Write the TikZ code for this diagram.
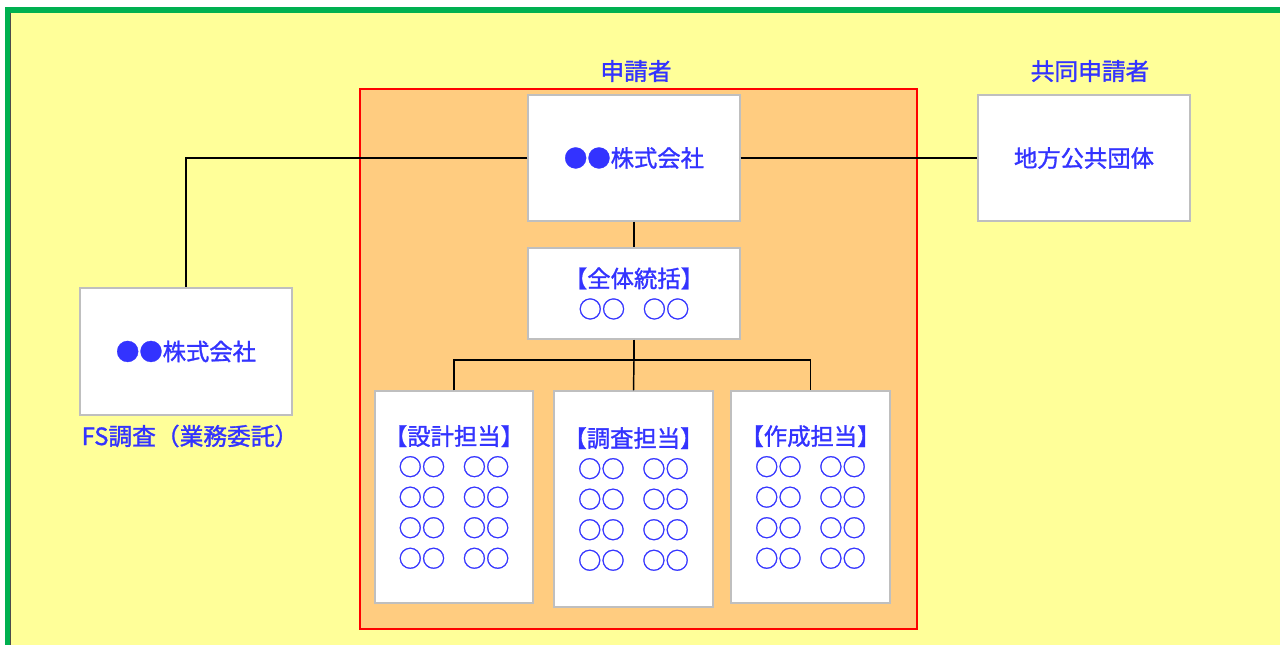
\documentclass[tikz,border=0pt]{standalone}
\usepackage{fontspec}
\newfontfamily\jp[FakeBold=1.3]{Noto Sans CJK JP}
\definecolor{bgyellow}{RGB}{255,255,153}
\definecolor{frgreen}{RGB}{0,176,80}
\definecolor{orgfill}{RGB}{255,204,128}
\definecolor{txtblue}{RGB}{51,51,255}
\definecolor{boxgray}{RGB}{191,191,191}
\tikzset{
  orgbox/.style={draw=boxgray, fill=white, line width=1.1pt, inner sep=0pt, align=center,
    text=txtblue, font=\jp\fontsize{17.5}{22.9}\selectfont},
  grouplabel/.style={inner sep=0pt, text=txtblue, font=\jp\fontsize{17.8}{20}\selectfont},
  link/.style={draw=black, line width=1.1pt}
}
\newcommand{\pp}{○○\hspace{0.75em}○○}
\begin{document}
\begin{tikzpicture}[x=0.75pt,y=-0.75pt]
\useasboundingbox (0,0) rectangle (1280,645);
\fill[white] (0,0) rectangle (1280,645);
\draw[fill=bgyellow, draw=frgreen, line width=4.5pt] (7.5,10) rectangle (1295,648);
\draw[black!70, line width=0.8pt] (10.5,13) -- (10.5,645);
\draw[fill=orgfill, draw=red, line width=1.9pt] (360,89) rectangle (917,629);

\node[grouplabel] (lbl1) at (636,71) {申請者};
\node[grouplabel] (lbl2) at (1090,71) {共同申請者};

\node[orgbox, minimum width=159pt, minimum height=94.5pt] (top) at (634,158) {●●株式会社};
\node[orgbox, minimum width=159pt, minimum height=94.5pt] (local) at (1084,158) {地方公共団体};
\node[orgbox, minimum width=159pt, minimum height=95.25pt] (fs) at (186,351.5) {●●株式会社};
\node[grouplabel] (fslbl) at (190,436) {FS調査（業務委託）};

\node[orgbox, minimum width=159pt, minimum height=68.25pt] (mgr) at (634,293.5) {【全体統括】\\\pp};

\node[orgbox, minimum width=118.5pt, minimum height=159pt] (b1) at (454,497) {【設計担当】\\\pp\\\pp\\\pp\\\pp};
\node[orgbox, minimum width=119.25pt, minimum height=162pt] (b2) at (633.5,499) {【調査担当】\\\pp\\\pp\\\pp\\\pp};
\node[orgbox, minimum width=119.25pt, minimum height=159pt] (b3) at (810.5,497) {【作成担当】\\\pp\\\pp\\\pp\\\pp};

\coordinate (hub) at (634,360);
\draw[link] (top.west) -- (fs.north |- top.west) -- (fs.north);
\draw[link] (top.east) -- (local.west);
\draw[link] (top.south) -- (mgr.north);
\draw[link] (mgr.south) -- (hub);
\draw[link] (b1.north) -- (b1.north |- hub) -- (b3.north |- hub) -- (b3.north);
\draw[link] (hub) -- (b2.north);
\end{tikzpicture}
\end{document}
